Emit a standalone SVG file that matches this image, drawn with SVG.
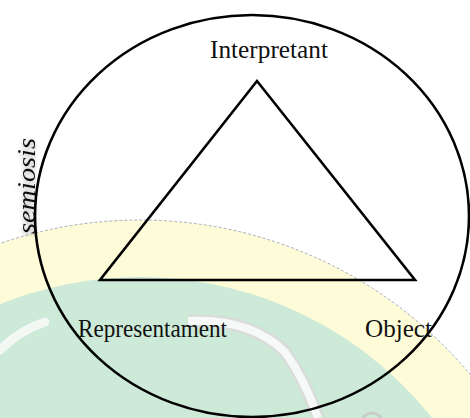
<svg xmlns="http://www.w3.org/2000/svg" width="470" height="418" viewBox="0 0 470 418">
  <style>
    .lbl { font-family: "Liberation Serif", "Times New Roman", serif; font-size: 26px; fill: #111; }
    .shape { fill: none; stroke: #000; stroke-width: 2.6; stroke-linejoin: miter; }
  </style>
  <defs>
    <filter id="shadow" x="-30%" y="-30%" width="160%" height="160%">
      <feGaussianBlur in="SourceAlpha" stdDeviation="2.5" result="b"/>
      <feOffset in="b" dx="-2" dy="0" result="o"/>
      <feComponentTransfer in="o" result="s"><feFuncA type="linear" slope="0.35"/></feComponentTransfer>
      <feMerge><feMergeNode in="s"/><feMergeNode in="SourceGraphic"/></feMerge>
    </filter>
  </defs>
  <rect width="470" height="418" fill="#ffffff"/>
  <g id="watermark">
    <circle cx="140" cy="650" r="430" fill="#fdfbd8" stroke="#a9aec0" stroke-width="1" stroke-dasharray="3 2"/>
    <circle cx="140" cy="650" r="373" fill="#cde9d8"/>
    <path d="M0,350 Q20,330 45,322" fill="none" stroke="#f4f8f5" stroke-width="9" stroke-linecap="round"/>
    <path d="M188,321 Q250,318 285,352 Q305,380 318,418" fill="none" stroke="#d9ddda" stroke-width="13"/>
    <path d="M188,321 Q250,318 285,352 Q305,380 318,418" fill="none" stroke="#f6f9f7" stroke-width="8"/>
    <path d="M362,418 Q372,408 382,418" fill="none" stroke="#c8cfcb" stroke-width="3"/>
  </g>
  <g id="cycle">
    <ellipse class="shape" cx="252" cy="216" rx="217" ry="201"/>
  </g>
  <g id="connectors">
    <polygon class="shape" points="257,81 100,280 415,280"/>
  </g>
  <g id="node-interpretant">
    <text class="lbl" x="210" y="58" textLength="118" lengthAdjust="spacingAndGlyphs">Interpretant</text>
  </g>
  <g id="node-representament">
    <text class="lbl" x="78" y="337" textLength="149" lengthAdjust="spacingAndGlyphs">Representament</text>
  </g>
  <g id="node-object">
    <text class="lbl" x="365" y="337" textLength="67" lengthAdjust="spacingAndGlyphs">Object</text>
  </g>
  <g id="label-semiosis">
    <text class="lbl" font-style="italic" font-size="30" transform="translate(35,234) rotate(-90)" textLength="96" lengthAdjust="spacingAndGlyphs" filter="url(#shadow)">semiosis</text>
  </g>
</svg>
